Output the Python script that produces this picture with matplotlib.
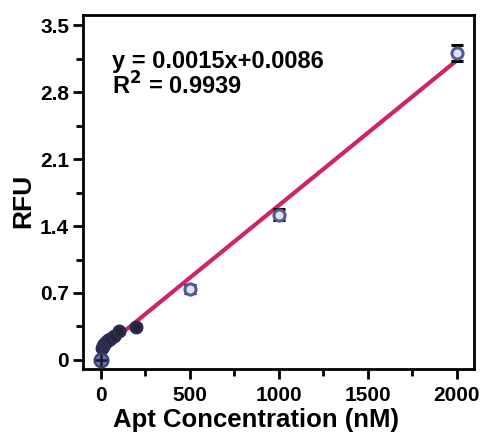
import numpy as np
import matplotlib
matplotlib.use('Agg')
from matplotlib import pyplot as plt
from matplotlib.ticker import MultipleLocator

plt.rcParams['font.family'] = ['Liberation Sans', 'DejaVu Sans']
plt.rcParams['font.weight'] = 'bold'

# Data
conc = [0, 5, 10, 20, 30, 40, 50, 75, 100, 200, 500, 1000, 2000]
rfu = [0.0, 0.12, 0.15, 0.17, 0.19, 0.21, 0.22, 0.25, 0.30, 0.34, 0.74, 1.52, 3.21]
rfu_err = [0.02, 0.02, 0.02, 0.02, 0.02, 0.02, 0.02, 0.02, 0.02, 0.02, 0.04, 0.06, 0.08]
eq_text = 'y = 0.0015x+0.0086'
r2_text = 'R$^2$ = 0.9939'

fig = plt.figure(figsize=(4.83, 4.32), dpi=100)
ax = fig.add_axes([0.172, 0.146, 0.809, 0.819])

# fitted line through the points
slope, icpt = np.polyfit(conc, rfu, 1)
xs = np.array([0, 2000])
ax.plot(xs, slope * xs + icpt, color='#d0246a', lw=3, zorder=3)

ax.errorbar(conc[:10], rfu[:10], yerr=rfu_err[:10], fmt='o', ms=8, mfc='#23233a', mec='#2a2c50',
            mew=2, ecolor='black', elinewidth=2, capsize=4, capthick=2, zorder=4)
ax.errorbar(conc[10:], rfu[10:], yerr=rfu_err[10:], fmt='o', ms=8, mfc='#dfe3f0', mec='#555a90',
            mew=2.2, ecolor='black', elinewidth=2, capsize=4, capthick=2, zorder=4)
ax.plot(conc[0], rfu[0], 'o', ms=10, mfc='#6a6ea8', mec='#3a3d70', mew=1.5, zorder=5)
ax.plot(conc[0], rfu[0], '+', color='#1a1a30', ms=8, mew=1.8, zorder=6)

ax.set_xlim(-100, 2095)
ax.set_ylim(-0.094, 3.605)
ax.xaxis.set_major_locator(MultipleLocator(500))
ax.xaxis.set_minor_locator(MultipleLocator(250))
ax.yaxis.set_minor_locator(MultipleLocator(0.35))
ax.set_yticks([0, 0.7, 1.4, 2.1, 2.8, 3.5])
ax.set_yticklabels(['0', '0.7', '1.4', '2.1', '2.8', '3.5'])

for s in ax.spines.values():
    s.set_linewidth(2)
ax.tick_params(which='major', length=7, width=2, labelsize=15, direction='out')
ax.tick_params(axis='y', which='major', pad=3)
ax.tick_params(axis='x', which='major', pad=5)
ax.tick_params(which='minor', length=5, width=2, direction='out')

ax.set_xlabel('Apt Concentration (nM)', fontsize=18.5, fontweight='bold')
ax.set_ylabel('RFU', fontsize=19, fontweight='bold')
ax.xaxis.set_label_coords(0.442, -0.11)
ax.yaxis.set_label_coords(-0.123, 0.475)

ax.text(0.074, 0.850, eq_text, transform=ax.transAxes, fontsize=17,
        fontweight='bold', va='baseline')
ax.text(0.074, 0.774, r2_text, transform=ax.transAxes, fontsize=17,
        fontweight='bold', va='baseline')

plt.savefig('out.png', dpi=100)
